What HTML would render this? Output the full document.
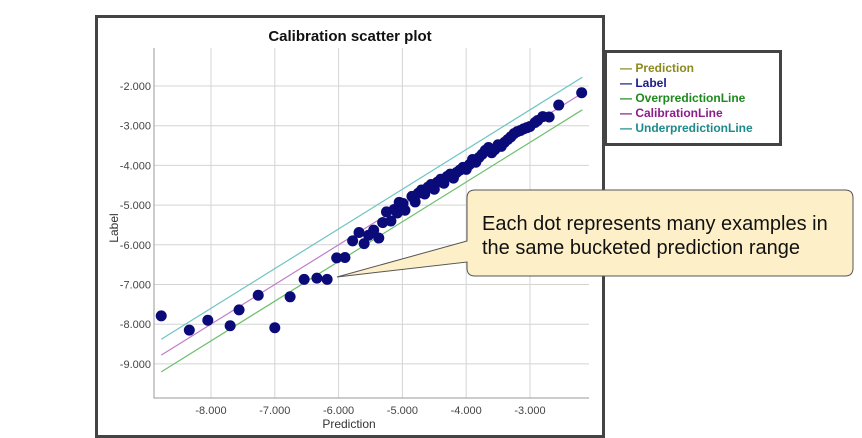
<!DOCTYPE html>
<html><head><meta charset="utf-8"><style>
body{margin:0;background:#fff;font-family:"Liberation Sans",sans-serif}
svg{display:block}
</style></head><body>
<svg width="862" height="438" viewBox="0 0 862 438">
<rect x="0" y="0" width="862" height="438" fill="#fff"/>
<rect x="96.5" y="16.5" width="507" height="420" fill="#fff" stroke="#444" stroke-width="3"/>
<text x="350" y="41" text-anchor="middle" font-size="15" font-weight="bold" fill="#111">Calibration scatter plot</text>
<g id="grid"></g>
<g id="axes"></g>
<g id="lines"></g>
<g id="dots"></g>
<text x="349" y="428" text-anchor="middle" font-size="12" fill="#333">Prediction</text>
<text transform="translate(118,228) rotate(-90)" text-anchor="middle" font-size="12" fill="#333">Label</text>
<g>
<rect x="605.5" y="51.5" width="175" height="93" fill="#fff" stroke="#444" stroke-width="3"/>
<g font-size="12" font-weight="bold">
<text x="620" y="72" fill="#8a8a1e">— Prediction</text>
<text x="620" y="87" fill="#1a1a8c">— Label</text>
<text x="620" y="102" fill="#1e8a1e">— OverpredictionLine</text>
<text x="620" y="117" fill="#8a1e8a">— CalibrationLine</text>
<text x="620" y="132" fill="#1e8a8a">— UnderpredictionLine</text>
</g></g>
<g>
<path d="M475,190 H845 Q853,190 853,198 V268 Q853,276 845,276 H475 Q467,276 467,268 V262 L337,277 L467,241 V198 Q467,190 475,190 Z" fill="#fdf0c8" stroke="#555" stroke-width="1"/>
<text x="482" y="230" font-size="20" fill="#111">Each dot represents many examples in</text>
<text x="482" y="254" font-size="20" fill="#111">the same bucketed prediction range</text>
</g>
</svg>
<script>
const xTicks=[-8,-7,-6,-5,-4,-3];
const yTicks=[-2,-3,-4,-5,-6,-7,-8,-9];
const lineStartX=-8.78, lineEndX=-2.18;
const underOffset=0.4, overOffset=-0.42;
const predX=[-8.78,-8.34,-8.05,-7.70,-7.56,-7.26,-7.00,-6.76,-6.54,-6.34,-6.18,-6.03,-5.90,-5.78,-5.68,-5.60,-5.53,-5.45,-5.37,-5.31,-5.25,-5.18,-5.13,-5.08,-5.05,-4.99,-4.96,-4.85,-4.8,-4.75,-4.7,-4.65,-4.6,-4.55,-4.5,-4.45,-4.4,-4.35,-4.3,-4.25,-4.2,-4.15,-4.1,-4.05,-4.0,-3.95,-3.9,-3.85,-3.8,-3.75,-3.7,-3.65,-3.6,-3.55,-3.5,-3.45,-3.4,-3.35,-3.3,-3.25,-3.2,-3.15,-3.1,-3.05,-3.0,-2.92,-2.88,-2.8,-2.7,-2.55,-2.19];
const labelY=[-7.79,-8.15,-7.90,-8.04,-7.64,-7.27,-8.09,-7.31,-6.87,-6.84,-6.87,-6.33,-6.32,-5.90,-5.69,-5.97,-5.76,-5.63,-5.83,-5.44,-5.17,-5.40,-5.11,-5.20,-4.93,-4.96,-5.13,-4.78,-4.92,-4.7,-4.62,-4.72,-4.55,-4.48,-4.6,-4.42,-4.35,-4.45,-4.28,-4.22,-4.32,-4.18,-4.12,-4.05,-4.1,-3.98,-3.85,-3.92,-3.8,-3.72,-3.62,-3.55,-3.68,-3.6,-3.48,-3.52,-3.42,-3.35,-3.28,-3.2,-3.15,-3.12,-3.08,-3.05,-3.02,-2.92,-2.87,-2.77,-2.78,-2.48,-2.17];
const X0=154,X1=589,Y0=48,Y1=398;
function sx(v){return 211+(v+8)*63.8;}
function sy(v){return 86+(-2-v)*39.7;}
const NS='http://www.w3.org/2000/svg';
function mk(p,tag,at){const e=document.createElementNS(NS,tag);for(const k in at)e.setAttribute(k,at[k]);p.appendChild(e);return e;}
const grid=document.getElementById('grid'),axes=document.getElementById('axes'),lines=document.getElementById('lines'),dots=document.getElementById('dots');
xTicks.forEach(t=>{
  const l=mk(grid,'line',{x1:sx(t),x2:sx(t),y1:Y0,y2:Y1,stroke:'#d4d4d4'});
  
  
  const tx=mk(axes,'text',{x:sx(t),y:414,'text-anchor':'middle','font-size':'11',fill:'#444'});
  tx.textContent=t.toFixed(3);
  
  
});
yTicks.forEach(t=>{
  const l=mk(grid,'line',{x1:X0,x2:X1,y1:sy(t),y2:sy(t),stroke:'#d4d4d4'});
  
  
  const tx=mk(axes,'text',{x:151,y:sy(t)+4,'text-anchor':'end','font-size':'11',fill:'#444'});
  tx.textContent=t.toFixed(3);
  
  
});
const ax=mk(axes,'path',{d:`M${X0},${Y0} V${Y1} H${X1}`,fill:'none',stroke:'#999'});


[[underOffset,'#6cc4c4','underprediction-line'],[0,'#c07cc8','calibration-line'],[overOffset,'#6cbf6c','overprediction-line']].forEach(([o,c,n])=>{
  const l=mk(lines,'line',{x1:sx(lineStartX),y1:sy(lineStartX+o),x2:sx(lineEndX),y2:sy(lineEndX+o),stroke:c,'stroke-width':1.2});
  
  
});
predX.forEach((x,i)=>{
  const c=mk(dots,'circle',{cx:sx(x),cy:sy(labelY[i]),r:5.5,fill:'#0a0a78'});
  
  
});
</script>
</body></html>
